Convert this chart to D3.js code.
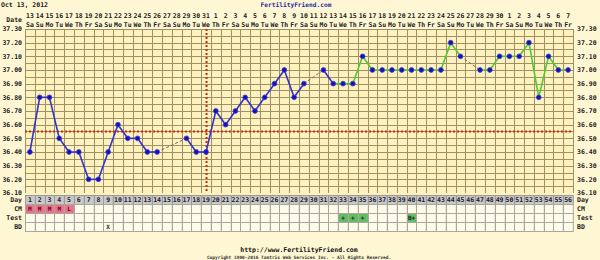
<!DOCTYPE html>
<html>
<head>
<meta charset="utf-8">
<script src="https://cdn.jsdelivr.net/npm/d3@7"></script>
<style>
  body { margin: 0; background: #fff7d4; }
  svg { display: block; }
  text { font-family: "DejaVu Sans Mono", monospace; font-weight: bold; }
</style>
</head>
<body>
<div id="chart"></div>
<script>
const cycleDays = d3.range(1, 57);
const dateLabels = [13,14,15,16,17,18,19,20,21,22,23,24,25,26,27,28,29,30,31,
    1,2,3,4,5,6,7,8,9,10,11,12,13,14,15,16,17,18,19,20,21,22,23,24,25,26,27,28,29,30,
    1,2,3,4,5,6,7];
const weekdays = ["Sa","Su","Mo","Tu","We","Th","Fr"];
const temps = [36.4,36.8,36.8,36.5,36.4,36.4,36.2,36.2,36.4,36.6,
    36.5,36.5,36.4,36.4,null,null,36.5,36.4,36.4,36.7,
    36.6,36.7,36.8,36.7,36.8,36.9,37.0,36.8,36.9,null,
    37.0,36.9,36.9,36.9,37.1,37.0,37.0,37.0,37.0,37.0,
    37.0,37.0,37.0,37.2,37.1,null,37.0,37.0,37.1,37.1,
    37.1,37.2,36.8,37.1,37.0,37.0];
const tempTicks = [37.3,37.2,37.1,37.0,36.9,36.8,36.7,36.6,36.5,36.4,36.3,36.2,36.1];
const cmValues = { 1: "M", 2: "M", 3: "M", 4: "M", 5: "L" };
const testValues = { 33: "+", 34: "+", 35: "+", 40: "B+" };
const bdValues = { 9: "X" };
const rowNames = ["Day", "CM", "Test", "BD"];
const coverline = 36.55;
const ovulationDay = 19;
const greenFrom = 32;

const width = 600, height = 260;
const plotLeft = 25, plotRight = 573, plotTop = 29, plotBottom = 193;

const svg = d3.select("#chart").append("svg")
    .attr("width", width)
    .attr("height", height);

svg.append("rect").attr("width", width).attr("height", height).attr("fill", "#fff7d4");

const x = d3.scaleBand().domain(cycleDays).range([plotLeft, plotRight]);
const y = d3.scaleLinear().domain([36.1, 37.3]).range([plotBottom, plotTop]);
const rowY = d3.scaleBand().domain(rowNames).range([195, 231]);
const cx = d => x(d) + x.bandwidth() / 2;

// titles
svg.append("text").attr("x", 1).attr("y", 7).attr("font-size", 6.5).attr("fill", "#222")
    .text("Oct 13, 2012");
svg.append("text").attr("x", 296).attr("y", 6.5).attr("font-size", 6.2).attr("fill", "#2a2aa0")
    .attr("text-anchor", "middle").text("FertilityFriend.com");

// plot background + grid
svg.append("rect").attr("x", plotLeft).attr("y", plotTop).attr("width", plotRight - plotLeft)
    .attr("height", plotBottom - plotTop).attr("fill", "#fff1bd");

const gridColor = "#9c9268";
const halfSteps = d3.range(0, 25).map(i => 36.1 + i * 0.05);
svg.append("g").selectAll("line").data(halfSteps).join("line")
    .attr("x1", plotLeft).attr("x2", plotRight)
    .attr("y1", d => Math.round(y(d)) + 0.5).attr("y2", d => Math.round(y(d)) + 0.5)
    .attr("stroke", gridColor).attr("stroke-width", 1);
svg.append("g").selectAll("line").data(cycleDays.concat([57])).join("line")
    .attr("x1", d => Math.round(d === 57 ? plotRight : x(d)) + 0.5)
    .attr("x2", d => Math.round(d === 57 ? plotRight : x(d)) + 0.5)
    .attr("y1", plotTop).attr("y2", plotBottom)
    .attr("stroke", gridColor).attr("stroke-width", 1);

// header dates
svg.append("text").attr("x", 22).attr("y", 22).attr("font-size", 6.5).attr("text-anchor", "end")
    .attr("fill", "#222").text("Date");
svg.append("g").selectAll("text").data(cycleDays).join("text")
    .attr("x", d => cx(d)).attr("y", 18).attr("font-size", 6.5).attr("text-anchor", "middle")
    .attr("fill", "#222").text(d => dateLabels[d - 1]);
svg.append("g").selectAll("text").data(cycleDays).join("text")
    .attr("x", d => cx(d)).attr("y", 26.5).attr("font-size", 6.5).attr("text-anchor", "middle")
    .attr("fill", "#222").text(d => weekdays[(d - 1) % 7]);

// temp axis labels
svg.append("g").selectAll("text").data(tempTicks).join("text")
    .attr("x", 22).attr("y", d => y(d) + 2.3).attr("font-size", 6.5).attr("text-anchor", "end")
    .attr("fill", "#222").text(d => d.toFixed(2));
svg.append("g").selectAll("text").data(tempTicks).join("text")
    .attr("x", 577).attr("y", d => y(d) + 2.3).attr("font-size", 6.5)
    .attr("fill", "#222").text(d => d.toFixed(2));

// coverline and ovulation line
svg.append("line").attr("x1", plotLeft).attr("x2", plotRight)
    .attr("y1", y(coverline)).attr("y2", y(coverline))
    .attr("stroke", "#cc2a10").attr("stroke-width", 2).attr("stroke-dasharray", "2,2");
svg.append("line").attr("x1", cx(ovulationDay) + 0.5).attr("x2", cx(ovulationDay) + 0.5)
    .attr("y1", plotTop).attr("y2", plotBottom)
    .attr("stroke", "#cc2a10").attr("stroke-width", 2).attr("stroke-dasharray", "2,2");

// temperature segments
const known = cycleDays.filter(d => temps[d - 1] !== null);
const segments = [];
for (let i = 0; i < known.length - 1; i++) {
    const a = known[i], b = known[i + 1];
    segments.push({ a, b, gap: b - a > 1 });
}
svg.append("g").selectAll("line").data(segments).join("line")
    .attr("x1", s => cx(s.a)).attr("y1", s => y(temps[s.a - 1]))
    .attr("x2", s => cx(s.b)).attr("y2", s => y(temps[s.b - 1]))
    .attr("stroke", s => s.gap ? "#6a6a6a" : (s.a >= greenFrom ? "#4fcc2e" : "#3434c8"))
    .attr("stroke-width", s => s.gap ? 1 : 1.6)
    .attr("stroke-dasharray", s => s.gap ? "3,2" : null);

svg.append("g").selectAll("circle").data(known).join("circle")
    .attr("cx", d => cx(d)).attr("cy", d => y(temps[d - 1]))
    .attr("r", 2.4)
    .attr("fill", "#1414a8").attr("stroke", "#3c3cf0").attr("stroke-width", 0.8);

// bottom rows
const rowsG = svg.append("g");
const cellFill = (row, d) => {
    if (row === "Day") return "#c9c9c9";
    if (row === "CM" && cmValues[d]) return "#e9748e";
    if (row === "Test" && testValues[d]) return "#62be62";
    return "#fffbe9";
};
const cellText = (row, d) => {
    if (row === "Day") return d;
    if (row === "CM") return cmValues[d] || "";
    if (row === "Test") return testValues[d] || "";
    return bdValues[d] || "";
};
rowNames.forEach(row => {
    rowsG.append("g").selectAll("rect").data(cycleDays).join("rect")
        .attr("x", d => Math.round(x(d)) + 0.5).attr("y", rowY(row) + 0.5)
        .attr("width", x.bandwidth()).attr("height", rowY.bandwidth())
        .attr("fill", d => cellFill(row, d))
        .attr("stroke", row === "Day" ? "#9a9a9a" : "#a8a8a0").attr("stroke-width", 1);
    rowsG.append("g").selectAll("text").data(cycleDays).join("text")
        .attr("x", d => cx(d)).attr("y", rowY(row) + rowY.bandwidth() / 2 + 2.3)
        .attr("font-size", row === "Day" ? 6.5 : 6).attr("text-anchor", "middle")
        .attr("fill", row === "CM" ? "#700018" : "#222")
        .text(d => cellText(row, d));
    rowsG.append("text").attr("x", 22).attr("y", rowY(row) + rowY.bandwidth() / 2 + 2.3)
        .attr("font-size", 6.5).attr("text-anchor", "end").attr("fill", "#222").text(row);
    rowsG.append("text").attr("x", 577).attr("y", rowY(row) + rowY.bandwidth() / 2 + 2.3)
        .attr("font-size", 6.5).attr("fill", "#222").text(row);
});
svg.append("rect").attr("x", plotLeft).attr("y", plotBottom).attr("width", plotRight - plotLeft).attr("height", 2)
    .attr("fill", "#fff1bd");

// footer
svg.append("text").attr("x", 299).attr("y", 251.5).attr("font-size", 6.5).attr("text-anchor", "middle")
    .attr("fill", "#111").text("http://www.FertilityFriend.com");
svg.append("text").attr("x", 299).attr("y", 258.5).attr("font-size", 4.5).attr("text-anchor", "middle")
    .attr("fill", "#333").text("Copyright 1998-2016 Tamtris Web Services Inc. - All Rights Reserved.");
</script>
</body>
</html>
